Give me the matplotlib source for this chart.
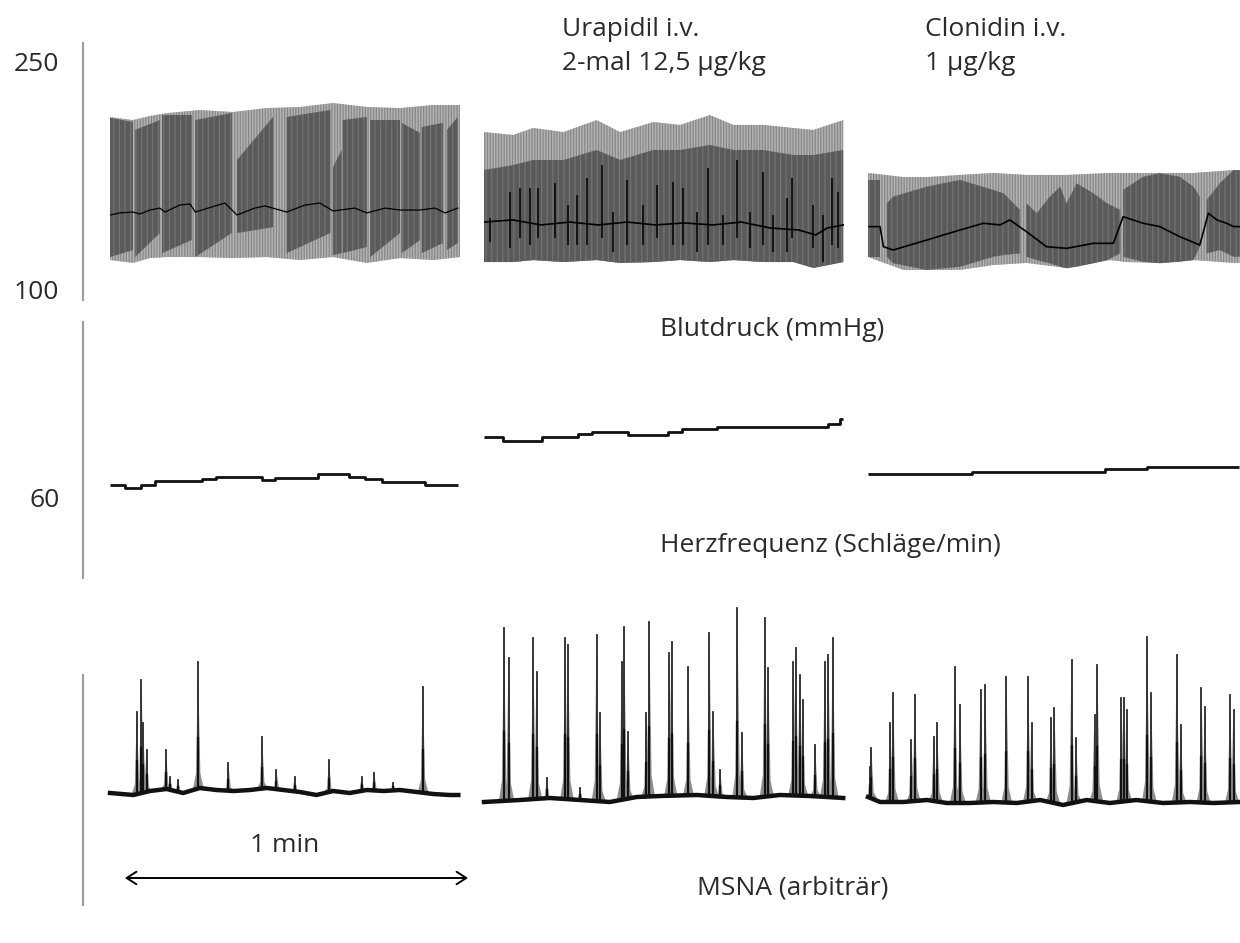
#!/usr/bin/env python3
'''
Blutdruck / Herzfrequenz / MSNA traces: baseline, Urapidil i.v., Clonidin i.v.
values read off the reference picture (time in s, BP in mmHg, HR in bpm, MSNA arbitrary)
'''
import numpy as np
import matplotlib
matplotlib.use("Agg")
import matplotlib.pyplot as plt

plt.rcParams['font.family'] = ['Open Sans', 'DejaVu Sans']
plt.rcParams['hatch.linewidth'] = 0.9

W, H = 1240, 943
PX_PER_S = 5.72  # 1 min scale bar = 343 px
FS = 19

# ---------------- blood pressure (mmHg) ----------------
BP1_T = [0.0, 4.0, 7.0, 10.0, 15.7, 21.5, 27.4, 33.2, 39.0, 44.9, 50.7, 56.5, 61.2]
BP1_SYS = [213.8, 211.8, 214.5, 216.4, 218.4, 217.1, 219.7, 220.4, 223.0, 220.4, 219.7, 221.7, 221.7]
BP1_DIA = [119.7, 117.8, 121.0, 121.7, 121.7, 121.0, 121.7, 119.7, 121.7, 117.8, 121.0, 119.7, 121.7]
# dark "teeth" in the control trace
TEETH1_T0 = [0.0, 4.4, 9.1, 14.9, 22.2, 30.9, 39.0, 40.7, 45.5, 51.0, 54.5, 58.9]
TEETH1_T1 = [4.0, 8.7, 14.3, 21.3, 28.5, 38.5, 40.5, 44.9, 50.7, 54.2, 58.2, 60.8]
TEETH1_TOP0 = [213.2, 205.3, 215.1, 211.8, 185.5, 213.8, 180.9, 211.8, 211.8, 209.9, 207.2, 205.3]
TEETH1_TOP1 = [210.5, 211.8, 215.1, 216.4, 213.8, 218.4, 192.1, 213.8, 211.8, 203.3, 209.9, 213.8]
TEETH1_BOT0 = [121.7, 121.7, 124.3, 121.7, 137.5, 124.3, 123.0, 124.3, 121.7, 124.3, 124.3, 126.3]
TEETH1_BOT1 = [126.3, 137.5, 132.9, 137.5, 141.4, 137.5, 124.3, 128.3, 137.5, 132.9, 130.9, 130.9]
BP1_MEAN_T = [0, 1.7, 4.0, 5.2, 7.0, 8.7, 9.6, 12.2, 14.0, 14.9, 18.4, 20.1, 22.2, 25.3,
              27.1, 30.9, 34.1, 36.7, 39.0, 42.8, 44.9, 48.1, 50.7, 54.2, 56.8, 58.6, 60.8]
BP1_MEAN = [149.3, 150.7, 151.3, 150.0, 152.6, 153.9, 151.3, 155.9, 156.6, 151.3, 155.3, 157.2, 149.3, 153.9,
            155.3, 151.3, 155.9, 157.2, 152.0, 153.9, 150.7, 153.9, 152.6, 152.6, 153.9, 150.7, 153.9]

BP2_T = [0.0, 5.1, 8.6, 13.9, 19.7, 23.8, 29.6, 34.3, 39.5, 43.6, 48.8, 54.1, 57.6, 62.8]
BP2_SYS = [203.9, 202.0, 206.6, 203.9, 211.8, 203.9, 210.5, 208.6, 215.1, 208.6, 208.6, 206.6, 205.3, 211.8]
BP2_DIA = [118.4, 118.4, 119.7, 118.4, 119.7, 117.8, 118.4, 119.7, 118.4, 119.7, 118.4, 118.4, 114.5, 118.4]
BP2_DARK = [178.9, 182.2, 185.5, 185.5, 192.1, 185.5, 192.1, 192.1, 195.4, 192.1, 192.1, 188.8, 188.8, 192.1]
BP2_MEAN_T = [0, 5, 10, 15, 20, 25, 30, 35, 40, 45, 50, 55, 58, 60, 62.8]
BP2_MEAN = [144.7, 146.1, 142.8, 144.7, 142.8, 144.7, 142.8, 144.1, 142.8, 144.7, 140.8, 139.5, 136.2, 140.8, 142.8]
BP2_SPIKE_T = [1.0, 4.5, 6.3, 8.0, 9.5, 12.4, 14.7, 16.2, 18.0, 20.6, 22.6, 25.0, 27.8, 30.2, 33.0,
               34.8, 37.2, 39.2, 41.8, 44.2, 46.5, 48.8, 50.5, 53.0, 53.8, 57.5, 59.3, 60.8, 61.9]
BP2_SPIKE_TOP = [147.2, 164.7, 166.9, 166.9, 166.9, 170.2, 155.9, 162.5, 173.5, 182.2, 151.5, 172.4, 155.9, 169.1, 171.2,
                 166.9, 151.5, 180.1, 149.3, 185.5, 151.5, 177.8, 149.3, 160.3, 173.5, 155.9, 149.3, 173.5, 164.7]
BP2_SPIKE_BOT = [131.8, 127.4, 134.0, 129.6, 134.0, 134.0, 129.6, 129.6, 129.6, 134.0, 125.2, 129.6, 129.6, 134.0, 129.6,
                 129.6, 125.2, 129.6, 129.6, 134.0, 127.4, 129.6, 125.2, 125.2, 134.0, 127.4, 118.6, 129.6, 127.4]

BP3_T = [0.0, 6.2, 10.3, 16.1, 21.9, 27.7, 34.7, 42.3, 45.2, 51.0, 56.9, 63.9, 65.0]
BP3_SYS = [177.0, 174.3, 174.3, 175.7, 177.0, 175.7, 175.7, 177.0, 177.0, 177.0, 177.0, 178.9, 178.9]
BP3_DIA = [121.7, 113.2, 113.2, 113.2, 116.4, 117.8, 114.5, 119.7, 118.4, 117.8, 119.7, 117.8, 117.8]
DARK3_T = [[0.0, 2.1],
           [3.3, 4.4, 10.3, 13.2, 16.1, 21.9, 23.7, 26.6],
           [27.7, 29.5, 31.8, 33.6, 34.7, 36.5, 39.4, 41.8, 44.1],
           [44.6, 48.1, 51.0, 54.5, 56.9, 58.0],
           [59.2, 61.5, 63.9, 65.0]]
DARK3_TOP = [[172.4, 172.4],
             [157.0, 161.4, 168.0, 170.2, 172.4, 165.8, 163.6, 152.6],
             [157.0, 150.5, 161.4, 168.0, 157.0, 170.2, 163.6, 157.0, 152.6],
             [165.8, 174.5, 176.8, 174.5, 168.0, 161.4],
             [159.2, 170.2, 178.9, 178.9]]
DARK3_BOT = [[121.9, 121.9],
             [121.9, 117.6, 113.2, 114.3, 115.3, 121.9, 123.0, 124.1],
             [121.9, 119.7, 117.6, 115.3, 114.3, 115.3, 117.6, 119.7, 124.1],
             [121.9, 118.6, 117.6, 118.6, 119.7, 128.5],
             [124.1, 126.3, 121.9, 121.9]]
BP3_MEAN_T = [0, 2.1, 2.7, 4.4, 10.3, 16.1, 20.2, 23.1, 24.8, 27.7, 31.2, 34.7,
              39.4, 42.9, 44.6, 48.1, 51.0, 54.5, 58.0, 59.5, 61.0, 62.7, 63.9, 65.0]
BP3_MEAN = [141.7, 141.7, 128.5, 126.3, 132.9, 139.5, 143.9, 142.8, 146.1, 138.4, 128.5, 127.4,
            130.7, 130.7, 148.2, 143.9, 141.7, 135.1, 129.6, 150.5, 146.1, 143.9, 141.7, 141.7]

# ---------------- heart rate (bpm) ----------------
HR1_T = [0, 2.6, 5.5, 7.9, 16.0, 18.6, 26.5, 28.8, 36.4, 41.7, 44.6, 47.5, 55.1, 60.9]
HR1 = [63.0, 62.2, 63.0, 64.0, 64.5, 65.1, 64.3, 64.8, 65.8, 65.1, 64.5, 63.8, 63.0, 63.0]
HR2_T = [0, 3.4, 10.1, 16.5, 18.8, 25.2, 32.2, 34.6, 40.7, 60.2, 62.2, 62.8]
HR2 = [74.9, 74.1, 74.9, 75.7, 76.3, 75.5, 76.2, 76.9, 77.6, 78.3, 79.4, 79.4]
HR3_T = [0, 18.1, 41.4, 48.7, 64.8]
HR3 = [65.7, 66.3, 66.9, 67.6, 67.6]

# ---------------- MSNA (arbitrary units) ----------------
MS1_BASE_T = [0, 4.1, 7.0, 9.9, 12.8, 15.7, 18.6, 21.6, 24.5, 27.4, 30.3, 33.2, 36.1, 39.0,
              41.9, 44.9, 47.8, 50.7, 53.6, 56.5, 59.4, 60.9]
MS1_BASE = [0.7, 0.5, 0.9, 1.1, 0.7, 1.2, 1.0, 0.9, 1.0, 1.2, 1.0, 0.8, 0.5, 0.9,
            0.7, 1.0, 0.9, 1.0, 0.8, 0.6, 0.5, 0.5]
MS1_BURST_T = [4.7, 5.5, 5.8, 6.4, 9.8, 10.5, 11.9, 15.4, 20.7, 26.6, 29.1, 32.3, 38.3, 44.0, 46.2, 49.5, 54.7]
MS1_BURST = [8.8, 12.0, 7.7, 5.0, 5.0, 2.3, 2.0, 13.8, 3.7, 6.3, 3.0, 2.3, 4.0, 2.3, 2.7, 1.7, 11.3]

MS2_BASE_T = [0, 6.3, 11.5, 16.8, 22.0, 26.7, 30.8, 37.2, 42.4, 47.1, 51.7, 57.0, 62.8]
MS2_BASE = [-0.2, 0.0, 0.2, 0.0, -0.2, 0.3, 0.4, 0.5, 0.3, 0.2, 0.5, 0.4, 0.2]
MS2_BURST_T = [3.5, 4.3, 8.6, 9.2, 11.0, 14.2, 14.7, 16.8, 19.7, 20.3, 24.1, 24.5, 25.2, 28.4, 28.9, 32.4, 32.8,
               35.7, 39.4, 40.1, 41.3, 44.3, 45.1, 49.1, 49.7, 54.1, 54.5, 55.2, 55.7, 57.9, 59.6, 60.2, 61.0]
MS2_BURST = [17.2, 14.2, 16.2, 12.8, 2.2, 16.2, 15.5, 1.2, 16.5, 8.7, 13.8, 17.3, 6.8, 8.7, 17.8, 14.7, 15.8,
             13.3, 16.7, 8.8, 3.0, 19.2, 6.7, 18.2, 13.2, 13.8, 15.2, 12.5, 10.0, 5.5, 13.8, 14.5, 16.2]

MS3_BASE_T = [0, 2.1, 6.2, 10.3, 13.8, 17.8, 21.9, 26.0, 30.1, 34.1, 38.2, 42.3, 46.9, 51.6, 56.3, 60.4, 65.0]
MS3_BASE = [0.3, -0.2, -0.2, 0.0, -0.3, -0.3, -0.2, -0.3, 0.0, -0.5, 0.0, -0.3, 0.0, -0.3, -0.2, -0.3, -0.2]
MS3_BURST_T = [0.4, 0.6, 3.9, 4.4, 7.6, 8.2, 11.5, 12.1, 15.2, 16.1, 19.7, 20.5, 24.2, 28.0, 28.6, 32.0,
               32.6, 35.6, 36.4, 39.6, 40.1, 44.3, 44.7, 45.2, 48.8, 49.5, 54.0, 54.7, 58.3, 58.9, 63.3, 63.9]
MS3_BURST = [3.3, 5.2, 7.7, 10.7, 6.0, 10.5, 6.3, 7.7, 13.3, 9.5, 11.0, 11.5, 12.3, 12.3, 7.7, 8.2,
             9.2, 14.0, 6.2, 8.5, 13.5, 10.2, 10.2, 9.0, 16.3, 10.7, 14.5, 7.5, 11.2, 9.3, 10.5, 9.0]

# panel extents in pixels (x) and row extents (y), with the matching value ranges
PANEL_X = [(110, 460), (484, 847), (868, 1240)]
ROW_BP = (43, 300, 93.42, 262.5)
ROW_HR = (322, 578, 39.75, 103.75)
ROW_MS = (675, 905, -10.5, 12.5)

LIGHT, LIGHT_H = '#b2b2b2', '#888888'
DARK, DARK_H = '#5a5a5a', '#727272'
AXIS_GREY = '#9c9c9c'
TXT = '#2b2b2b'

fig = plt.figure(figsize=(W / 100, H / 100), dpi=100)


def px_axes(x0, x1, y0, y1):
    ax = fig.add_axes([x0 / W, 1 - y1 / H, (x1 - x0) / W, (y1 - y0) / H])
    ax.set_axis_off()
    return ax


def panel(i, row):
    x0, x1 = PANEL_X[i]
    ax = px_axes(x0, x1, row[0], row[1])
    ax.set_xlim(0, (x1 - x0) / PX_PER_S)
    ax.set_ylim(row[2], row[3])
    return ax


def envelope(ax, t, lo, hi, face, hatch_col, z=1, hatch='||||||'):
    ax.fill_between(t, lo, hi, facecolor=face, edgecolor=hatch_col, hatch=hatch, linewidth=0, zorder=z)


# ---- row scale lines with tick labels
for row, ticks in [(ROW_BP, [250, 100]), (ROW_HR, [60]), (ROW_MS, [])]:
    rax = fig.add_axes([83 / W, 1 - row[1] / H, 5 / W, (row[1] - row[0]) / H])
    rax.set_ylim(row[2], row[3])
    for s in ['top', 'right', 'bottom']:
        rax.spines[s].set_visible(False)
    rax.spines['left'].set_color(AXIS_GREY)
    rax.spines['left'].set_linewidth(1.5)
    rax.patch.set_visible(False)
    rax.set_xticks([])
    rax.set_yticks(ticks)
    rax.tick_params(axis='y', length=0, pad=17, labelsize=FS, labelcolor=TXT)

# ---- blood pressure
ax = panel(0, ROW_BP)
envelope(ax, BP1_T, BP1_DIA, BP1_SYS, LIGHT, LIGHT_H)
for t0, t1, a0, a1, b0, b1 in zip(TEETH1_T0, TEETH1_T1, TEETH1_TOP0, TEETH1_TOP1, TEETH1_BOT0, TEETH1_BOT1):
    envelope(ax, [t0, t1], [b0, b1], [a0, a1], DARK, DARK_H, z=2, hatch='|||')
ax.plot(BP1_MEAN_T, BP1_MEAN, color='black', lw=0.9, zorder=3)

ax = panel(1, ROW_BP)
envelope(ax, BP2_T, BP2_DIA, BP2_SYS, LIGHT, LIGHT_H)
envelope(ax, BP2_T, BP2_DIA, BP2_DARK, DARK, DARK_H, z=2, hatch='|||')
ax.vlines(BP2_SPIKE_T, BP2_SPIKE_BOT, BP2_SPIKE_TOP, color='black', lw=1.1, zorder=3)
ax.plot(BP2_MEAN_T, BP2_MEAN, color='black', lw=1.2, zorder=3)

ax = panel(2, ROW_BP)
envelope(ax, BP3_T, BP3_DIA, BP3_SYS, LIGHT, LIGHT_H)
for tt, top, bot in zip(DARK3_T, DARK3_TOP, DARK3_BOT):
    envelope(ax, tt, bot, top, DARK, DARK_H, z=2, hatch='|||')
ax.plot(BP3_MEAN_T, BP3_MEAN, color='black', lw=1.2, zorder=3)

# ---- heart rate
for i, (t, hr) in enumerate([(HR1_T, HR1), (HR2_T, HR2), (HR3_T, HR3)]):
    ax = panel(i, ROW_HR)
    ax.step(t, hr, where='post', color='#111111', lw=2.0, solid_capstyle='butt')

# ---- MSNA
ms_data = [(MS1_BASE_T, MS1_BASE, MS1_BURST_T, MS1_BURST),
           (MS2_BASE_T, MS2_BASE, MS2_BURST_T, MS2_BURST),
           (MS3_BASE_T, MS3_BASE, MS3_BURST_T, MS3_BURST)]
for i, (bt, bv, pt, pv) in enumerate(ms_data):
    ax = panel(i, ROW_MS)
    foot = np.interp(pt, bt, bv)
    for t, h, f in zip(pt, pv, foot):
        d = h - f
        xs = [t - 0.9, t - 0.35, t - 0.12, t, t + 0.15, t + 0.4, t + 1.0]
        ys = [f, f + 0.12 * d, f + 0.75 * d, h, f + 0.65 * d, f + 0.12 * d, f]
        ax.fill(xs, ys, color='#8f8f8f', lw=0, clip_on=False, zorder=1)
        ax.plot([t, t], [f, h], color='#2a2a2a', lw=1.3, clip_on=False, zorder=2)
        ax.plot([t, t], [f, f + 0.4 * d], color='#111111', lw=1.6, clip_on=False, zorder=2)
    ax.plot(bt, bv, color='#111111', lw=3.2, clip_on=False, zorder=3, solid_joinstyle='round')
    if i == 0:
        # 1 min scale bar, in panel-1 time units
        ax.annotate('', xy=(62.6, 1 - 878 / H), xytext=(2.6, 1 - 878 / H),
                    xycoords=('data', 'figure fraction'),
                    arrowprops=dict(arrowstyle='<->, head_length=0.7, head_width=0.45',
                                    color='black', lw=1.4, shrinkA=0, shrinkB=0))
        ax.annotate('1 min', xy=(30.5, 1 - 845 / H), xycoords=('data', 'figure fraction'),
                    ha='center', va='center', fontsize=FS, color=TXT)


# ---- labels
def label(x, y, s, ha='left'):
    fig.text(x / W, 1 - y / H, s, ha=ha, va='center', fontsize=FS, color=TXT)


label(562, 30, 'Urapidil i.v.')
label(562, 64, '2-mal 12,5 µg/kg')
label(925, 30, 'Clonidin i.v.')
label(925, 64, '1 µg/kg')
label(660, 330, 'Blutdruck (mmHg)')
label(660, 545, 'Herzfrequenz (Schläge/min)')
label(697, 888, 'MSNA (arbiträr)')

fig.savefig('out.png', dpi=100, facecolor='white')
